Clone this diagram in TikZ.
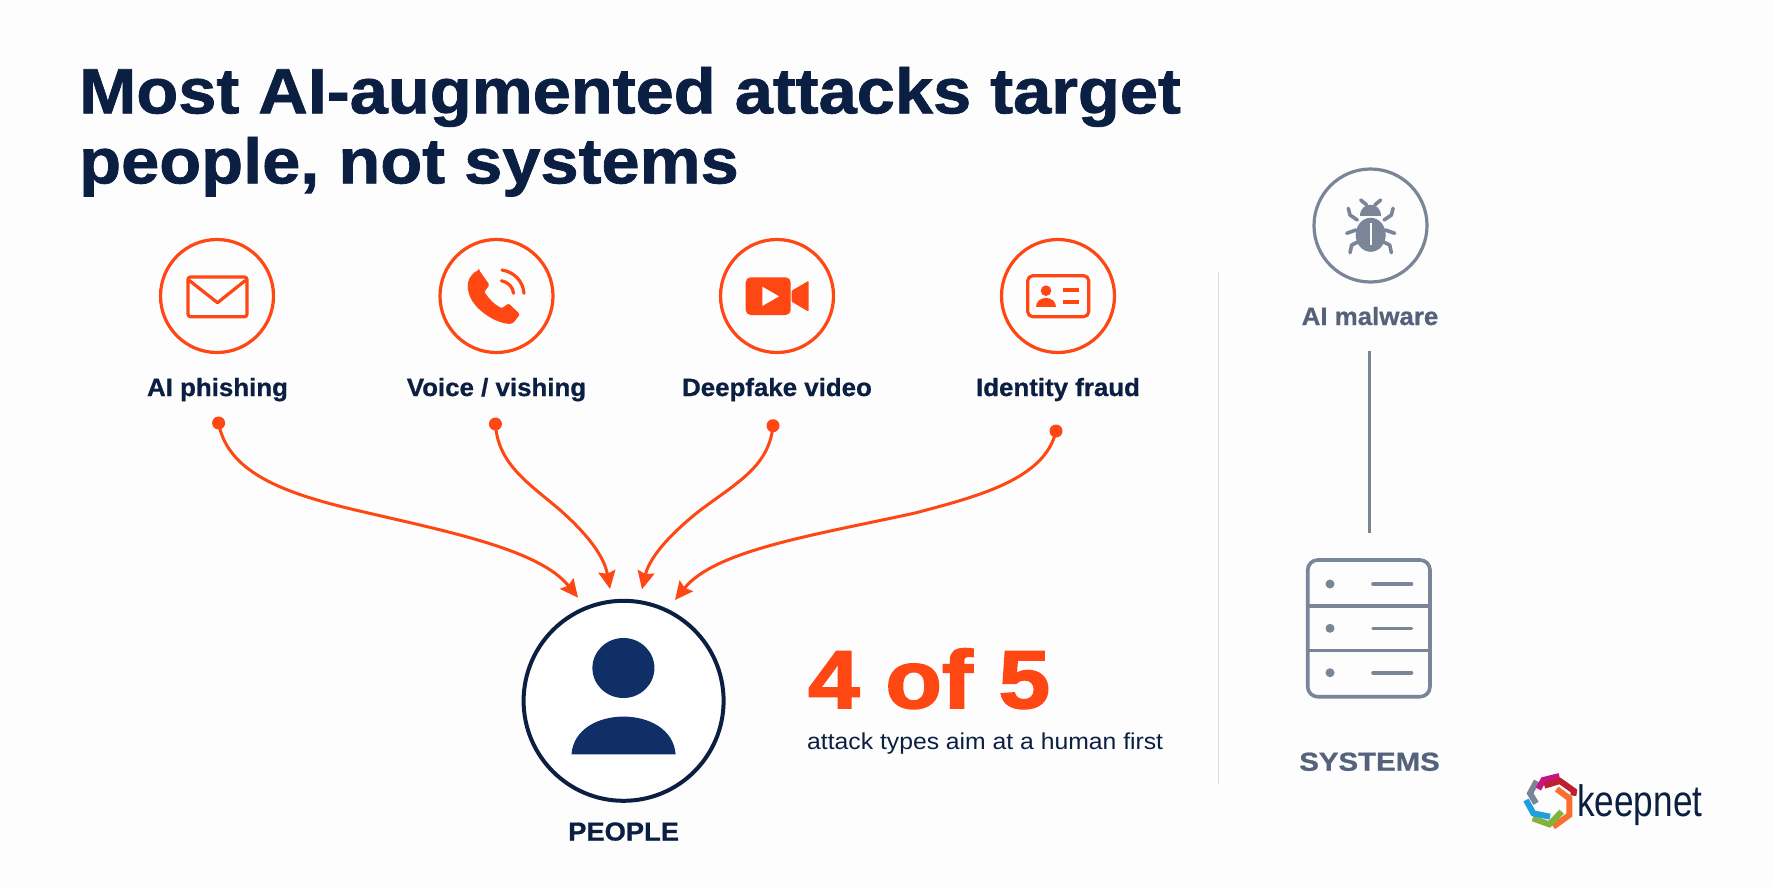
\documentclass[tikz,border=0pt]{standalone}
\usepackage{fontspec}
\usepackage{graphicx}
\setmainfont{Liberation Sans}
\newfontface\titlef[FakeStretch=1.072,FakeBold=1.2]{Liberation Sans Bold}
\newfontface\statf[FakeStretch=1.13,FakeBold=2.2]{Liberation Sans Bold}
\newfontface\labf[FakeStretch=1.035,FakeBold=0.8]{Liberation Sans Bold}
\newfontface\capf[FakeStretch=1.05,FakeBold=0.8]{Liberation Sans Bold}
\newfontface\sysf[FakeStretch=1.13,FakeBold=0.8]{Liberation Sans Bold}
\newfontface\subf[FakeStretch=1.075]{Liberation Sans}
\usetikzlibrary{arrows.meta}
\definecolor{bgc}{HTML}{FDFDFD}
\definecolor{navy}{HTML}{0B1F42}
\definecolor{pfill}{HTML}{0F2F66}
\definecolor{fire}{HTML}{FF4713}
\definecolor{slatec}{HTML}{7A8597}
\definecolor{slatet}{HTML}{55627B}
\definecolor{dividerc}{HTML}{D9DCE0}
\newcommand{\fsz}[1]{\fontsize{#1}{#1}\selectfont}
\tikzset{
 iconring/.style={circle,draw=fire,line width=3.2pt,minimum size=113pt,inner sep=0pt},
 grayring/.style={circle,draw=slatec,line width=3.2pt,minimum size=113pt,inner sep=0pt},
 lab/.style={anchor=base,text=navy,font=\labf\fsz{25},inner sep=0pt},
 graylab/.style={anchor=base,text=slatet,font=\labf\fsz{25},inner sep=0pt},
 startdot/.style={circle,fill=fire,minimum size=13pt,inner sep=0pt},
 arr/.style={draw=fire,line width=3pt,-{Stealth[length=18pt,width=17pt,inset=2.5pt]}},
 iconline/.style={draw=fire,line width=3.2pt,line join=round,line cap=round},
 bugleg/.style={draw=slatec,line width=3.6pt,line cap=round,line join=round},
 srv/.style={draw=slatec,line width=3.6pt,line cap=round},
 logoseg/.style={line width=6pt,line join=miter}
}
\begin{document}
\begin{tikzpicture}[x=1pt,y=-1pt]
\useasboundingbox (0,0) rectangle (1774,887);
\fill[bgc] (0,0) rectangle (1774,887);
% title
\node[anchor=base west,text=navy,inner sep=0pt,font=\titlef\fsz{64}] (t1) at (79,113.3) {Most AI-augmented attacks target};
\node[anchor=base west,text=navy,inner sep=0pt,font=\titlef\fsz{64}] (t2) at (79,183.3) {people, not systems};
% rings
\node[iconring] (c1) at (217,296) {};
\node[iconring] (c2) at (496.5,296) {};
\node[iconring] (c3) at (777,296) {};
\node[iconring] (c4) at (1058,296) {};
\node[lab] (l1) at (217.5,396) {AI phishing};
\node[lab] (l2) at (496.5,396) {Voice / vishing};
\node[lab] (l3) at (777,396) {Deepfake video};
\node[lab] (l4) at (1058,396) {Identity fraud};
% mail
\draw[iconline,rounded corners=2.5pt] (188,277) rectangle (247,316.7);
\draw[iconline] (189.6,280.7) -- (217.5,302.7) -- (245,280.7);
% phone
\fill[fire,rounded corners=1.5pt] (479,270) -- (489.6,285) -- (484.3,291.7)
  .. controls (489,299) and (495,305) .. (502,308.3) -- (508.6,303.3) -- (520,314.3) -- (513,323.3)
  .. controls (500,326) and (466,308) .. (468,283.3) .. controls (469,277) and (474,272) .. cycle;
\draw[iconline] (501.4,280.7) .. controls (508,282) and (513,287) .. (513.6,293.3);
\draw[iconline] (502,270) .. controls (514,272) and (523,281) .. (524,293.3);
% video
\fill[fire,rounded corners=5pt] (745.7,277.3) rectangle (790.7,315);
\fill[white] (762.3,286.7) -- (762.3,306) -- (779,296.3) -- cycle;
\fill[fire,rounded corners=1pt] (791.7,290.7) -- (808.7,280.7) -- (808.7,311.7) -- (791.7,301.7) -- cycle;
% id
\draw[iconline,rounded corners=5pt] (1027.7,275.7) rectangle (1088.7,316.7);
\fill[fire] (1046,290.7) circle (5.3);
\fill[fire] (1036,306.7) .. controls (1036,295) and (1056,295) .. (1056,306.7) -- cycle;
\draw[iconline,line cap=butt] (1062.7,290) -- (1079,290);
\draw[iconline,line cap=butt] (1062.7,302) -- (1079,302);
% connectors
\node[startdot] (d1) at (218.6,423) {};
\node[startdot] (d2) at (495.4,424) {};
\node[startdot] (d3) at (773,425.7) {};
\node[startdot] (d4) at (1056,431) {};
\coordinate (a1) at (578,597.7);
\coordinate (a2) at (610,589);
\coordinate (a3) at (642,589.3);
\coordinate (a4) at (675,600);
\draw[arr] (d1.center) .. controls (228,475) and (290,495) .. (364,512) .. controls (450,532) and (540,550) .. (a1);
\draw[arr] (d2.center) .. controls (498,465) and (530,484) .. (560,510) .. controls (585,532) and (604,555) .. (a2);
\draw[arr] (d3.center) .. controls (769,466) and (738,482) .. (700.5,510) .. controls (675,530) and (650,555) .. (a3);
\draw[arr] (d4.center) .. controls (1045,480) and (975,497) .. (915,513) .. controls (815,535) and (715,550) .. (a4);
% people
\node[circle,draw=navy,line width=4pt,minimum size=200pt,inner sep=0pt,fill=white] (pc) at (623.6,700.8) {};
\fill[pfill] (623.4,668) ellipse (31 and 30);
\fill[pfill] (571.5,754.3) .. controls (575,704) and (672,704) .. (675.6,754.3) -- cycle;
\node[lab,font=\capf\fsz{26}] (pl) at (623.6,840.5) {PEOPLE};
% stat
\node[anchor=base west,text=fire,inner sep=0pt,font=\statf\fsz{82}] (st) at (808,708) {4 of 5};
\node[anchor=base west,text=navy,inner sep=0pt,font=\subf\fsz{23}] (sb) at (807,749) {attack types aim at a human first};
% divider
\coordinate (v1) at (1218.5,271.5);
\coordinate (v2) at (1218.5,784);
\draw[dividerc,line width=1.6pt] (v1) -- (v2);
% malware
\node[grayring] (cm) at (1370.5,225.5) {};
\node[graylab] (lm) at (1370,325) {AI malware};
\fill[slatec] (1370.7,234.8) ellipse (15 and 17);
\fill[slatec] (1360,215.7) .. controls (1360,201) and (1381.4,201) .. (1381.4,215.7) -- cycle;
\draw[white,line width=1.8pt] (1370.7,223) -- (1370.7,245);
\foreach \s in {1,-1}{
 \begin{scope}[shift={(1370.7,0)},xscale=\s]
 \draw[bugleg] (-13.4,220) -- (-20.7,215) -- (-22.4,208.3);
 \draw[bugleg] (-14.7,230) -- (-24,233.3);
 \draw[bugleg] (-12.4,241.7) -- (-19,245) -- (-20.7,252.7);
 \draw[bugleg] (-4,205) -- (-10,200);
 \end{scope}
}
\coordinate (m1) at (1369,351);
\coordinate (m2) at (1369,533);
\draw[slatec,line width=3pt] (m1) -- (m2);
% server
\draw[srv,rounded corners=10pt] (1307.7,560) rectangle (1430,696.7);
\draw[srv] (1307.7,606) -- (1430,606);
\draw[srv] (1307.7,650.3) -- (1430,650.3);
\foreach \yy in {584,628.3,672.7}{
 \fill[slatec] (1330,\yy) circle (4.5);
 \draw[srv] (1373,\yy) -- (1411.5,\yy);
}
\node[graylab,font=\sysf\fsz{26}] (ls) at (1369.5,770.7) {SYSTEMS};
% logo
\begin{scope}[shift={(1510,765)},x=0.3333pt,y=-0.3333pt]
 \draw[logoseg,draw=slatec] (80,48) -- (60,85) -- (78,115);
 \draw[logoseg,draw={rgb,255:red,200;green,20;blue,130}] (85,72) -- (100,45) -- (148,33);
 \draw[logoseg,draw={rgb,255:red,190;green,30;blue,45}] (103,62) -- (150,48) -- (192,78) -- (190,92);
 \draw[logoseg,draw={rgb,255:red,250;green,110;blue,50}] (140,72) -- (178,100) -- (178,150) -- (130,185);
 \draw[logoseg,draw={rgb,255:red,130;green,180;blue,60}] (68,160) -- (118,178) -- (155,140);
 \draw[logoseg,draw={rgb,255:red,30;green,160;blue,220}] (48,105) -- (70,145) -- (120,155);
\end{scope}
\node[anchor=base west,text=navy,inner sep=0pt,font=\fsz{44}] (kp) at (1577,816.7) {\scalebox{0.8}[1]{keepnet}};
\end{tikzpicture}
\end{document}
